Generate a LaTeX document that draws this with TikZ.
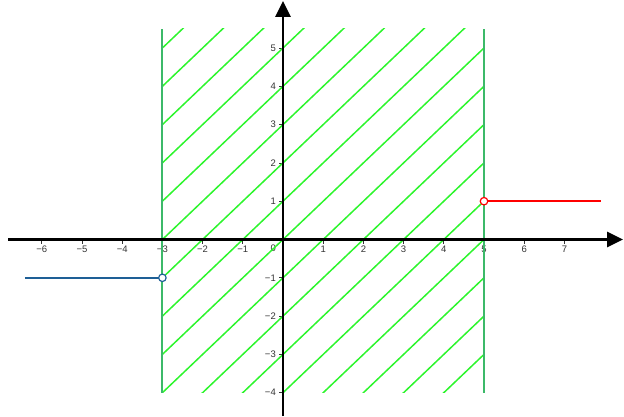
\documentclass[tikz,border=0pt]{standalone}
\usepackage{fontspec}
\setmainfont{Liberation Sans}
\usetikzlibrary{arrows.meta}
\definecolor{hatchgreen}{RGB}{45,245,45}
\definecolor{edgegreen}{RGB}{60,185,105}
\definecolor{leftblue}{RGB}{30,95,150}
\definecolor{labgray}{RGB}{51,51,51}
\tikzset{
  axis/.style={line width=2.4pt, -{Triangle[width=15pt,length=16pt]}},
  tickmark/.style={line width=0.7pt, labgray},
  ticklab/.style={text=labgray, inner sep=0pt},
  hatch/.style={hatchgreen, line width=1.5pt},
  edgeline/.style={edgegreen, line width=2pt},
  opendot/.style={circle, draw, fill=white, line width=1.2pt, minimum size=7.5pt, inner sep=0pt},
  rayline/.style={line width=1.6pt},
}
\begin{document}
\begin{tikzpicture}[x=40.2pt, y=38.3pt, font=\fontsize{9.5}{10}\selectfont, line join=round]
\useasboundingbox (-283pt,-176.5pt) rectangle (341pt,239.5pt);
% labels on the axes
\foreach \x in {1,...,7} \node[ticklab] (xl\x) at ([yshift=-9.5pt]\x,0) {\x};
\foreach \x in {1,...,6} \node[ticklab] (xlm\x) at ([yshift=-9.5pt]-\x,0) {−\x};
\foreach \y in {1,...,5} \node[ticklab, anchor=east] (yl\y) at ([xshift=-7pt]0,\y) {\y};
\foreach \y in {1,...,4} \node[ticklab, anchor=east] (ylm\y) at ([xshift=-7pt]0,-\y) {−\y};
\node[ticklab] (o) at ([xshift=-9.7pt,yshift=-8.5pt]0,0) {0};
\foreach \x in {-6,...,7} \draw[tickmark] (\x,0) -- ++(0,-4pt);
\foreach \y in {-4,...,5} \draw[tickmark] (0,\y) -- ++(-4pt,0);
% hatched strip -3 <= x <= 5
\begin{scope}
  \clip (-3,-4) rectangle (5,5.5);
  \foreach \k in {-8,...,8} \draw[hatch] (-4,-4+\k) -- (6,6+\k);
\end{scope}
\draw[edgeline] (-3,-4) -- (-3,5.5);
\draw[edgeline] (5,-4) -- (5,5.5);
% the two rays
\coordinate (bl) at (-6.42,-1);
\coordinate (bp) at (-3,-1);
\coordinate (rp) at (5,1);
\coordinate (rr) at (7.9,1);
\draw[rayline, draw=leftblue] (bl) -- (bp);
\draw[rayline, draw=red] (rp) -- (rr);
\node[opendot, draw=leftblue] (bc) at (bp) {};
\node[opendot, draw=red] (rc) at (rp) {};
% axes
\draw[axis] (-6.84,0) -- (8.46,0);
\draw[axis] (0,-4.61) -- (0,6.23);
\end{tikzpicture}
\end{document}
